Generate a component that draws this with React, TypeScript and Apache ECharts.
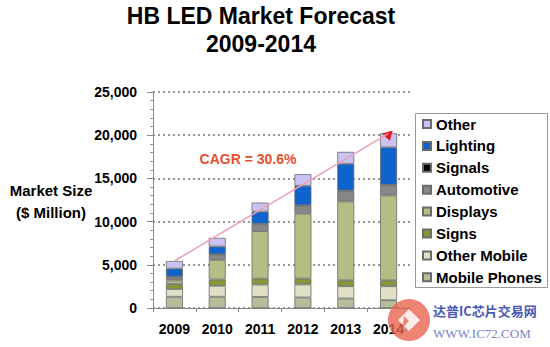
import React, { useEffect, useRef } from "react";
import * as echarts from "echarts";

const years = ["2009", "2010", "2011", "2012", "2013", "2014"];
const mobilePhones = [1300, 1300, 1280, 1220, 1100, 900];
const otherMobile = [900, 1270, 1430, 1500, 1420, 1620];
const signs = [570, 730, 690, 690, 690, 690];
const displays = [420, 2270, 5500, 7510, 9120, 9810];
const automotive = [400, 600, 780, 900, 1200, 1180];
const signals = [50, 50, 60, 70, 70, 60];
const lighting = [920, 900, 1420, 2250, 3090, 4340];
const other = [880, 1000, 1040, 1350, 1380, 1620];

const seriesNames = ["Mobile Phones", "Other Mobile", "Signs", "Displays", "Automotive", "Signals", "Lighting", "Other"];
const seriesValues = [mobilePhones, otherMobile, signs, displays, automotive, signals, lighting, other];
const seriesColors = ["#b8bc98", "#dfe0c6", "#86973a", "#b3bd84", "#878787", "#000000", "#0f63cf", "#c9c3f3"];
const legendOrder = ["Other", "Lighting", "Signals", "Automotive", "Displays", "Signs", "Other Mobile", "Mobile Phones"];
const yTicks = [0, 5000, 10000, 15000, 20000, 25000];
const cagrLabel = "CAGR = 30.6%";

const FONT = "'Liberation Sans', Arial, sans-serif";

export default function App() {
  const ref = useRef<HTMLDivElement>(null);
  useEffect(() => {
    if (!ref.current) return;
    const chart = echarts.init(ref.current, null, { renderer: "svg" });
    const totals = years.map((_, i) => seriesValues.reduce((s, arr) => s + arr[i], 0));
    const cagrData = years.map((_, i) => (i === 0 || i === years.length - 1 ? totals[i] : "-"));
    const bars = seriesNames.map((name, k) => ({
      name,
      type: "bar",
      stack: "total",
      barWidth: 17,
      data: seriesValues[k],
      itemStyle: { color: seriesColors[k], borderColor: "#6b6b6b", borderWidth: 0.8 },
    }));
    chart.setOption({
      animation: false,
      backgroundColor: "#ffffff",
      textStyle: { fontFamily: FONT },
      grid: { left: 153, right: 140, top: 92, bottom: 39 },
      legend: {
        data: legendOrder,
        orient: "vertical",
        left: 422,
        top: 116,
        padding: 0,
        itemWidth: 8,
        itemHeight: 8,
        itemGap: 5.9,
        icon: "rect",
        textStyle: { fontSize: 15, fontWeight: "bold", color: "#000", lineHeight: 16, fontFamily: FONT },
      },
      xAxis: {
        type: "category",
        data: years,
        axisLine: { lineStyle: { color: "#888", width: 1 } },
        axisTick: { show: true, length: 4, lineStyle: { color: "#888" } },
        axisLabel: { fontSize: 14, fontWeight: "bold", color: "#000", margin: 14, fontFamily: FONT },
      },
      yAxis: {
        type: "value",
        min: yTicks[0],
        max: yTicks[yTicks.length - 1],
        interval: 5000,
        axisLine: { show: true, lineStyle: { color: "#888", width: 1 } },
        axisTick: { show: true, length: 6, lineStyle: { color: "#888" } },
        minorTick: { show: true, splitNumber: 5, length: 3, lineStyle: { color: "#999" } },
        splitLine: { show: true, lineStyle: { color: "#777", type: [2, 3], width: 1.5 } },
        axisLabel: {
          fontSize: 14,
          fontWeight: "bold",
          color: "#000",
          margin: 16,
          fontFamily: FONT,
          formatter: (v: number) => v.toLocaleString("en-US"),
        },
      },
      series: [
        ...bars,
        {
          name: "CAGR",
          type: "line",
          data: cagrData,
          connectNulls: true,
          showSymbol: false,
          symbol: "none",
          z: 5,
          lineStyle: { color: "#eea0b4", width: 1.5 },
          markPoint: {
            symbol: "triangle",
            symbolSize: [11, 9],
            symbolRotate: 195,
            symbolOffset: [0, 3],
            label: { show: false },
            itemStyle: { color: "#e8141c" },
            data: [{ coord: [years[years.length - 1], totals[totals.length - 1]] }],
          },
        },
      ],
      graphic: [
        {
          type: "text",
          x: 261,
          y: 16,
          style: { text: "HB LED Market Forecast", font: `bold 23px ${FONT}`, fill: "#000", textAlign: "center", textVerticalAlign: "middle" },
        },
        {
          type: "text",
          x: 261,
          y: 44,
          style: { text: "2009-2014", font: `bold 23px ${FONT}`, fill: "#000", textAlign: "center", textVerticalAlign: "middle" },
        },
        {
          type: "text",
          x: 51,
          y: 190,
          style: { text: "Market Size", font: `bold 15px ${FONT}`, fill: "#000", textAlign: "center", textVerticalAlign: "middle" },
        },
        {
          type: "text",
          x: 51,
          y: 212,
          style: { text: "($ Million)", font: `bold 15px ${FONT}`, fill: "#000", textAlign: "center", textVerticalAlign: "middle" },
        },
        {
          type: "text",
          x: 248,
          y: 159,
          z: 10,
          style: { text: cagrLabel, font: `bold 14px ${FONT}`, fill: "#e5502e", textAlign: "center", textVerticalAlign: "middle" },
        },
        {
          type: "rect",
          z: -1,
          shape: { x: 415.5, y: 113.5, width: 132, height: 174 },
          style: { fill: "#fff", stroke: "#999", lineWidth: 1 },
        },
        {
          type: "circle",
          z: 20,
          shape: { cx: 409, cy: 320, r: 21 },
          style: { fill: "rgba(232,100,80,0.8)" },
        },
        {
          type: "polygon",
          z: 21,
          shape: { points: [[398, 320], [409, 309], [420, 320], [409, 331], [404, 326], [409, 321], [404, 316], [403, 325]] },
          style: { fill: "rgba(255,255,255,0.85)" },
        },
        {
          type: "text",
          x: 433,
          y: 310,
          z: 20,
          style: { text: "达普IC芯片交易网", font: `bold 13px 'Noto Sans CJK SC', sans-serif`, fill: "#4a58b8", textAlign: "left", textVerticalAlign: "middle" },
        },
        {
          type: "text",
          x: 433,
          y: 333,
          z: 20,
          style: { text: "WWW.IC72.COM", font: `13px 'Liberation Serif', serif`, fill: "#7a86cc", textAlign: "left", textVerticalAlign: "middle" },
        },
      ],
    });
    return () => chart.dispose();
  }, []);
  return <div ref={ref} style={{ position: "fixed", left: 0, top: 0, width: 550, height: 347 }} />;
}
